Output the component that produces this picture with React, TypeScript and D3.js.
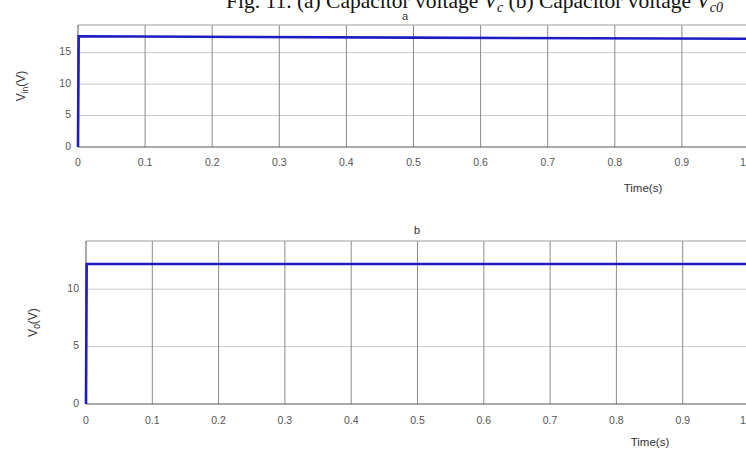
import * as d3 from 'd3';
import { useEffect, useRef } from 'react';

const xTicks = [0, 0.1, 0.2, 0.3, 0.4, 0.5, 0.6, 0.7, 0.8, 0.9, 1];

// panel a: input voltage
const timeA = [0, 0.001, 0.5, 1];
const vinA = [0, 17.6, 17.4, 17.2];
const yTicksA = [0, 5, 10, 15];

// panel b: output voltage
const timeB = [0, 0.001, 0.5, 1];
const voB = [0, 12.2, 12.2, 12.2];
const yTicksB = [0, 5, 10];

export default function App() {
  const ref = useRef<SVGSVGElement>(null);

  useEffect(() => {
    const svg = d3.select(ref.current);
    svg.selectAll('*').remove();

    svg.append('rect').attr('width', 746).attr('height', 452).attr('fill', '#fff');

    // caption, cut off at the top
    const cap = svg.append('text')
      .attr('x', 226).attr('y', 8)
      .attr('font-family', 'Liberation Serif, serif')
      .attr('font-size', 21.5).attr('fill', '#111');
    cap.append('tspan').text('Fig. 11. (a) Capacitor voltage ');
    cap.append('tspan').attr('font-style', 'italic').text('V');
    cap.append('tspan').attr('font-size', 14).attr('dy', 4).attr('font-style', 'italic').text('c');
    cap.append('tspan').attr('dy', -4).text(' (b) Capacitor voltage ');
    cap.append('tspan').attr('font-style', 'italic').text('V');
    cap.append('tspan').attr('font-size', 14).attr('dy', 4).attr('font-style', 'italic').text('c0');

    function panel(opts: {
      left: number; right: number; top: number; bottom: number;
      yMax: number; yTicks: number[]; t: number[]; v: number[];
      title: string; titleX: number; titleY: number;
      ysub: string; ylabelX: number;
      tickY: number; timeX: number; timeY: number;
    }) {
      const x = d3.scaleLinear().domain([0, 1]).range([opts.left, opts.right]);
      const y = d3.scaleLinear().domain([0, opts.yMax]).range([opts.bottom, opts.top]);
      const g = svg.append('g');
      const font = 'Liberation Sans, Arial, sans-serif';

      // grid
      g.selectAll('.hg').data(opts.yTicks.filter(d => d > 0)).enter().append('line')
        .attr('x1', opts.left).attr('x2', 746)
        .attr('y1', d => y(d)).attr('y2', d => y(d))
        .attr('stroke', '#c8c8c8').attr('stroke-width', 1);
      g.selectAll('.vg').data(xTicks.filter(d => d > 0)).enter().append('line')
        .attr('x1', d => x(d)).attr('x2', d => x(d))
        .attr('y1', opts.top).attr('y2', opts.bottom)
        .attr('stroke', '#8a8a8a').attr('stroke-width', 1);

      // frame
      g.append('line').attr('x1', opts.left).attr('x2', 746).attr('y1', opts.top).attr('y2', opts.top)
        .attr('stroke', '#999');
      g.append('line').attr('x1', opts.left).attr('x2', 746).attr('y1', opts.bottom).attr('y2', opts.bottom)
        .attr('stroke', '#555');
      g.append('line').attr('x1', opts.left).attr('x2', opts.left).attr('y1', opts.top).attr('y2', opts.bottom)
        .attr('stroke', '#555');

      // tick labels (the last one sits at the cropped right edge)
      g.selectAll('.xl').data(xTicks).enter().append('text')
        .attr('x', d => Math.min(x(d), 743)).attr('y', opts.tickY)
        .attr('text-anchor', 'middle').attr('dominant-baseline', 'middle')
        .attr('font-family', font).attr('font-size', 10.5).attr('fill', '#555')
        .text(d => String(d));
      g.selectAll('.yl').data(opts.yTicks).enter().append('text')
        .attr('x', opts.left - 7).attr('y', d => y(d))
        .attr('text-anchor', 'end').attr('dominant-baseline', 'middle')
        .attr('font-family', font).attr('font-size', 10.5).attr('fill', '#555')
        .text(d => String(d));

      // series
      const line = d3.line<number>().x((d, i) => x(opts.t[i])).y(d => y(d));
      g.append('path').datum(opts.v).attr('d', line)
        .attr('fill', 'none').attr('stroke', '#1c1cc4').attr('stroke-width', 2.6);

      g.append('text').attr('x', opts.titleX).attr('y', opts.titleY)
        .attr('text-anchor', 'middle').attr('font-family', font).attr('font-size', 11)
        .attr('fill', '#333').text(opts.title);

      g.append('text').attr('x', opts.timeX).attr('y', opts.timeY)
        .attr('text-anchor', 'middle').attr('dominant-baseline', 'middle')
        .attr('font-family', font).attr('font-size', 11.5).attr('fill', '#333').text('Time(s)');

      const cy = (opts.top + opts.bottom) / 2;
      const yl = g.append('text')
        .attr('transform', `translate(${opts.ylabelX},${cy}) rotate(-90)`)
        .attr('text-anchor', 'middle').attr('font-family', font).attr('font-size', 12).attr('fill', '#333');
      yl.append('tspan').text('V');
      yl.append('tspan').attr('font-size', 8.5).attr('dy', 3).text(opts.ysub);
      yl.append('tspan').attr('dy', -3).text('(V)');
    }

    panel({
      left: 78, right: 749, top: 25, bottom: 147,
      yMax: 19.4, yTicks: yTicksA, t: timeA, v: vinA,
      title: 'a', titleX: 405, titleY: 20,
      ysub: 'in', ylabelX: 25,
      tickY: 163, timeX: 643, timeY: 189,
    });

    panel({
      left: 86, right: 749, top: 241, bottom: 404,
      yMax: 14.2, yTicks: yTicksB, t: timeB, v: voB,
      title: 'b', titleX: 417, titleY: 234,
      ysub: '0', ylabelX: 37,
      tickY: 421, timeX: 650, timeY: 443,
    });
  }, []);

  return (
    <svg ref={ref} width={746} height={452}
      style={{ position: 'absolute', left: 0, top: 0, display: 'block' }} />
  );
}
